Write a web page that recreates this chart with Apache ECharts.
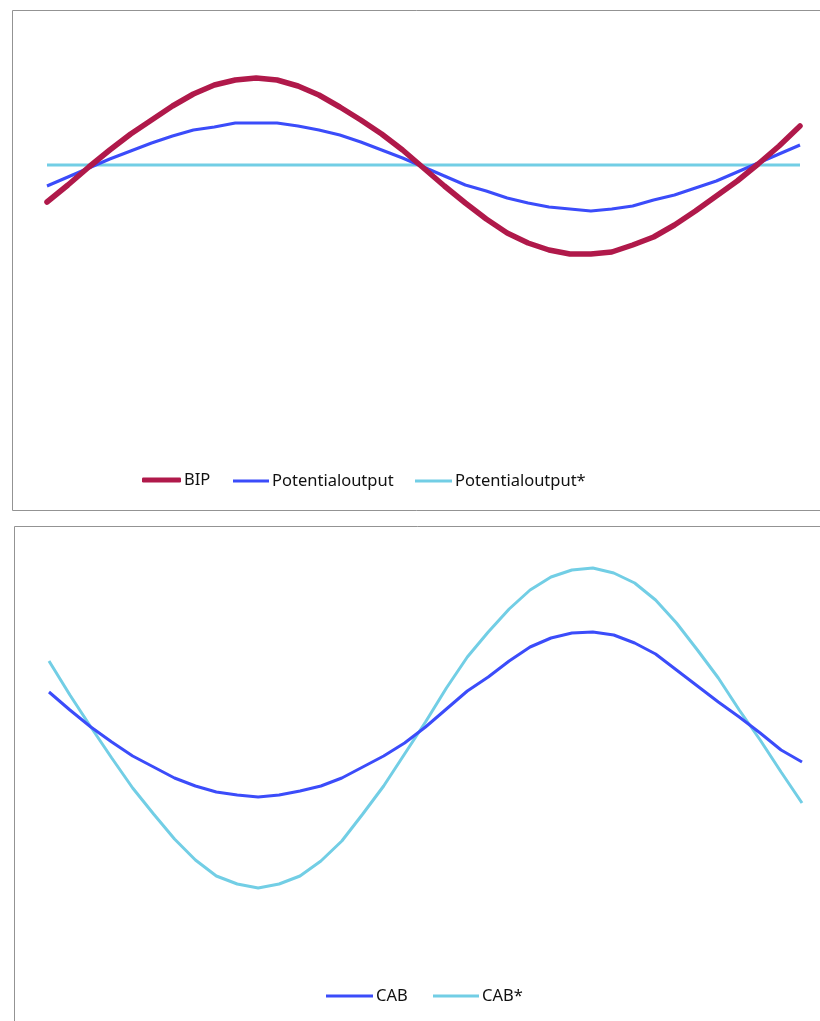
<!DOCTYPE html>
<html>
<head>
<meta charset="utf-8">
<style>
html,body{margin:0;padding:0;background:#fff;}
#chart{width:820px;height:1021px;}
</style>
<script src="https://cdn.jsdelivr.net/npm/echarts@6/dist/echarts.min.js"></script>
</head>
<body>
<div id="chart"></div>
<script>
// categories (periods) - no tick labels shown in the original
const categories = Array.from({length: 37}, (_, i) => String(i + 1));

// top panel series (deviation units)
const bip = [-3.7,-2.0,-0.2,1.5,3.1,4.5,5.9,7.1,8.0,8.5,8.7,8.5,7.9,7.0,5.8,4.5,3.1,1.5,-0.3,-2.1,-3.8,-5.4,-6.8,-7.8,-8.5,-8.9,-8.9,-8.7,-8.0,-7.2,-6.0,-4.6,-3.1,-1.6,0.1,1.9,3.9];
const potentialOutput = [-2.1,-1.2,-0.3,0.6,1.4,2.2,2.9,3.5,3.8,4.2,4.2,4.2,3.9,3.5,3.0,2.3,1.5,0.7,-0.2,-1.1,-2.0,-2.6,-3.3,-3.8,-4.2,-4.4,-4.6,-4.4,-4.1,-3.5,-3.0,-2.3,-1.6,-0.7,0.2,1.1,2.0];
const potentialOutputStar = [0,0,0,0,0,0,0,0,0,0,0,0,0,0,0,0,0,0,0,0,0,0,0,0,0,0,0,0,0,0,0,0,0,0,0,0,0];

// bottom panel series
const cab = [3.8,2.0,0.3,-1.2,-2.6,-3.7,-4.8,-5.6,-6.2,-6.5,-6.7,-6.5,-6.1,-5.6,-4.8,-3.7,-2.6,-1.3,0.3,2.1,3.9,5.3,6.9,8.3,9.2,9.7,9.8,9.5,8.7,7.6,6.0,4.4,2.8,1.3,-0.3,-2.0,-3.2];
const cabStar = [6.9,3.5,0.3,-2.8,-5.8,-8.4,-10.9,-13.0,-14.6,-15.4,-15.8,-15.4,-14.6,-13.1,-11.1,-8.4,-5.6,-2.4,0.8,4.2,7.3,9.8,12.1,14.0,15.3,16.0,16.2,15.7,14.7,13.0,10.7,8.0,5.2,2.0,-1.0,-4.2,-7.3];

const C_BIP = '#B0194A', C_BLUE = '#3B4CFA', C_CYAN = '#72CEE5';
const FONT = 'Noto Sans';

function leg(name, left, centerY, w, h, icon) {
  return {
    data: [{name: name, icon: icon}],
    left: left, top: centerY - h / 2, padding: 0,
    itemWidth: w, itemHeight: h,
    textStyle: {fontFamily: FONT, fontSize: 16.5, color: '#111', padding: [0, 0, 0, -2]}
  };
}

const chart = echarts.init(document.getElementById('chart'), null, {renderer: 'canvas'});
chart.setOption({
  animation: false,
  backgroundColor: '#ffffff',
  graphic: [
    {type: 'rect', shape: {x: 12.5, y: 10.5, width: 900, height: 500}, style: {fill: 'none', stroke: '#939393', lineWidth: 1}, z: -1},
    {type: 'rect', shape: {x: 14.5, y: 526.5, width: 900, height: 600}, style: {fill: 'none', stroke: '#939393', lineWidth: 1}, z: -1}
  ],
  grid: [
    {left: 47, width: 753, top: 15, height: 450},
    {left: 49, width: 753, top: 540, height: 450}
  ],
  xAxis: [
    {type: 'category', gridIndex: 0, data: categories, boundaryGap: false, show: false},
    {type: 'category', gridIndex: 1, data: categories, boundaryGap: false, show: false}
  ],
  yAxis: [
    {type: 'value', gridIndex: 0, min: -30, max: 15, show: false, splitLine: {show: false}},
    {type: 'value', gridIndex: 1, min: -26, max: 19, show: false, splitLine: {show: false}}
  ],
  legend: [
    leg('BIP', 142, 474, 39, 5, 'roundRect'),
    leg('Potentialoutput', 233, 474, 36, 3, 'rect'),
    leg('Potentialoutput*', 415, 474, 37, 3, 'rect'),
    leg('CAB', 326, 989, 47, 3, 'rect'),
    leg('CAB*', 433, 989, 46, 3, 'rect')
  ],
  series: [
    {name: 'Potentialoutput*', type: 'line', xAxisIndex: 0, yAxisIndex: 0, data: potentialOutputStar, symbol: 'none', color: C_CYAN, lineStyle: {width: 3, color: C_CYAN}, z: 2},
    {name: 'Potentialoutput', type: 'line', xAxisIndex: 0, yAxisIndex: 0, data: potentialOutput, symbol: 'none', color: C_BLUE, lineStyle: {width: 3, color: C_BLUE}, z: 3},
    {name: 'BIP', type: 'line', xAxisIndex: 0, yAxisIndex: 0, data: bip, symbol: 'none', color: C_BIP, lineStyle: {width: 5.5, color: C_BIP, cap: 'round', join: 'round'}, z: 4},
    {name: 'CAB', type: 'line', xAxisIndex: 1, yAxisIndex: 1, data: cab, symbol: 'none', color: C_BLUE, lineStyle: {width: 3, color: C_BLUE}, z: 3},
    {name: 'CAB*', type: 'line', xAxisIndex: 1, yAxisIndex: 1, data: cabStar, symbol: 'none', color: C_CYAN, lineStyle: {width: 3, color: C_CYAN}, z: 2}
  ]
});
</script>
</body>
</html>
